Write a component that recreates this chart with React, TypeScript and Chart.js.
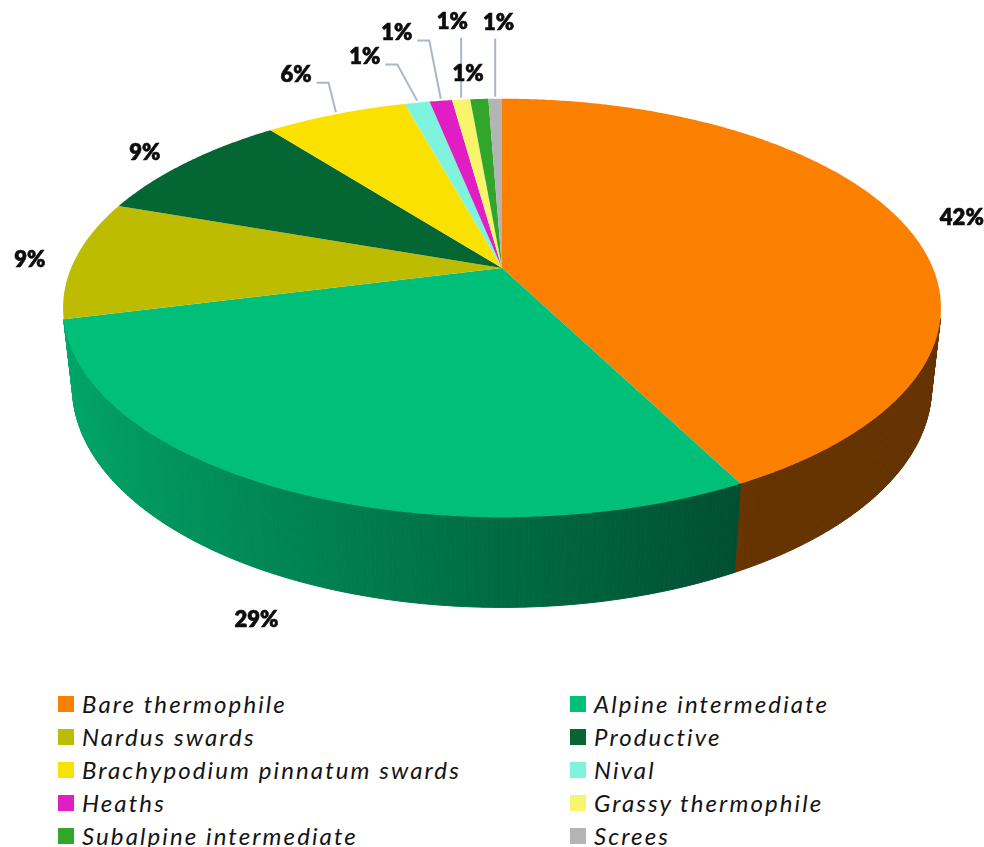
import React, { useEffect, useRef } from "react";
import { Chart, registerables } from "chart.js";

Chart.register(...registerables);

// ---------- data ----------
const categories = [
  "Bare thermophile",
  "Alpine intermediate",
  "Nardus swards",
  "Productive",
  "Brachypodium pinnatum swards",
  "Nival",
  "Heaths",
  "Grassy thermophile",
  "Subalpine intermediate",
  "Screes",
];
const shares = [42.4, 28.7, 9.2, 9.1, 6.3, 1.1, 1.0, 0.8, 0.8, 0.6];
const colors = [
  "#FB8000",
  "#00BF78",
  "#BDBC00",
  "#036633",
  "#FAE100",
  "#7EF4DF",
  "#E01EC4",
  "#F8F46B",
  "#31A62A",
  "#B4B4B4",
];

// ---------- label layout (style, not data) ----------
const labelRadius = [1.15, 1.14, 1.105, 1.13, 1.31, 1.37, 1.535, 1.6, 1.18, 1.586];
const labelShiftDeg = [0.6, 0, -0.4, -0.9, 0.3, -3.4, -2.1, 1.1, -1.1, 0.7];
const labelOnBase = [false, true, false, false, false, false, false, false, false, false];
const labelLeader = [false, false, false, false, true, true, true, true, false, true];

// ---------- 3D view ----------
const VIEW = {
  cx: 502,
  cy: 268,
  F: 1995,
  L: 4.63,
  tilt: (27.9 * Math.PI) / 180,
  h: 0.2107,
};

function project(X: number, Y: number, Z: number) {
  const c = Math.cos(VIEW.tilt);
  const s = Math.sin(VIEW.tilt);
  const depth = VIEW.L + Y * c - Z * s;
  return {
    x: VIEW.cx + (VIEW.F * X) / depth,
    y: VIEW.cy - (VIEW.F * (Y * s + Z * c)) / depth,
  };
}

function hexToRgb(hex: string) {
  const v = parseInt(hex.slice(1), 16);
  return [(v >> 16) & 255, (v >> 8) & 255, v & 255];
}

function projectedContext(ctx: CanvasRenderingContext2D, x0: number, y0: number, R: number) {
  const pt = (px: number, py: number) => project((px - x0) / R, -(py - y0) / R, 0);
  const overrides: any = {
    moveTo(x: number, y: number) {
      const p = pt(x, y);
      ctx.moveTo(p.x, p.y);
    },
    lineTo(x: number, y: number) {
      const p = pt(x, y);
      ctx.lineTo(p.x, p.y);
    },
    arc(x: number, y: number, r: number, a0: number, a1: number, ccw?: boolean) {
      if (!isFinite(a0) || !isFinite(a1) || !(r > 0)) {
        if (isFinite(x) && isFinite(y)) {
          const p = pt(x, y);
          ctx.lineTo(p.x, p.y);
        }
        return;
      }
      let span = a1 - a0;
      if (!ccw && span < 0) span += Math.PI * 2;
      if (ccw && span > 0) span -= Math.PI * 2;
      const n = Math.max(2, Math.ceil(Math.abs(span) / (Math.PI / 360)));
      for (let i = 0; i <= n; i++) {
        const a = a0 + (span * i) / n;
        const p = pt(x + r * Math.cos(a), y + r * Math.sin(a));
        ctx.lineTo(p.x, p.y);
      }
    },
    translate() {},
  };
  return new Proxy(ctx, {
    get(t: any, p) {
      if (typeof p === "string" && p in overrides) return overrides[p];
      const v = t[p];
      return typeof v === "function" ? v.bind(t) : v;
    },
    set(t: any, p, v) {
      t[p] = v;
      return true;
    },
  });
}

const pie3d = {
  id: "pie3d",
  beforeDatasetsDraw(chart: any) {
    const meta = chart.getDatasetMeta(0);
    const ctx: CanvasRenderingContext2D = chart.ctx;
    const thr = -1 / (VIEW.L * Math.cos(VIEW.tilt));
    ctx.save();
    ctx.lineWidth = 1;
    meta.data.forEach((el: any, i: number) => {
      const s0 = el.startAngle;
      const s1 = el.endAngle;
      const n = Math.max(1, Math.ceil((s1 - s0) / (Math.PI / 360)));
      const rgb = hexToRgb(colors[i]);
      for (let j = 0; j < n; j++) {
        const a0 = s0 + ((s1 - s0) * j) / n;
        const a1 = s0 + ((s1 - s0) * (j + 1)) / n;
        const Y0 = -Math.sin(a0);
        const Y1 = -Math.sin(a1);
        if (Math.min(Y0, Y1) > thr) continue;
        const X0 = Math.cos(a0);
        const X1 = Math.cos(a1);
        const Xm = Math.cos((a0 + a1) / 2);
        const sh = Math.max(0.4, Math.min(0.9, 0.56 - 0.32 * Xm));
        const col = `rgb(${Math.round(rgb[0] * sh)},${Math.round(rgb[1] * sh)},${Math.round(rgb[2] * sh)})`;
        const t0 = project(X0, Y0, 0);
        const t1 = project(X1, Y1, 0);
        const b1 = project(X1, Y1, -VIEW.h);
        const b0 = project(X0, Y0, -VIEW.h);
        ctx.beginPath();
        ctx.moveTo(t0.x, t0.y);
        ctx.lineTo(t1.x, t1.y);
        ctx.lineTo(b1.x, b1.y);
        ctx.lineTo(b0.x, b0.y);
        ctx.closePath();
        ctx.fillStyle = col;
        ctx.strokeStyle = col;
        ctx.fill();
        ctx.stroke();
      }
    });
    ctx.restore();
  },
  beforeDatasetDraw(chart: any, args: any) {
    const meta = args.meta;
    const ref = meta.data[0];
    const pctx = projectedContext(chart.ctx, ref.x, ref.y, ref.outerRadius);
    meta.data.forEach((el: any) => el.draw(pctx));
    return false;
  },
  afterDatasetsDraw(chart: any) {
    const meta = chart.getDatasetMeta(0);
    const ctx: CanvasRenderingContext2D = chart.ctx;
    const data: number[] = chart.data.datasets[0].data;
    const total = data.reduce((a, b) => a + b, 0);
    ctx.save();
    ctx.font = "800 22px Lato";
    ctx.textAlign = "center";
    ctx.textBaseline = "middle";
    meta.data.forEach((el: any, i: number) => {
      const mid = (el.startAngle + el.endAngle) / 2;
      const a = mid + (labelShiftDeg[i] * Math.PI) / 180;
      const r = labelRadius[i];
      const c = project(r * Math.cos(a), -r * Math.sin(a), labelOnBase[i] ? -VIEW.h : 0);
      const text = Math.round((data[i] / total) * 100) + "%";
      const w = ctx.measureText(text).width;
      if (labelLeader[i]) {
        const e = project(Math.cos(mid), -Math.sin(mid), 0);
        const right = c.x + w / 2;
        ctx.strokeStyle = "#A9B7C9";
        ctx.lineWidth = 2;
        ctx.beginPath();
        if (e.x > right + 8) {
          ctx.moveTo(e.x, e.y - 2);
          ctx.lineTo(right + 17, c.y + 8);
          ctx.lineTo(right + 5, c.y + 8);
        } else {
          ctx.moveTo(e.x, e.y - 2);
          ctx.lineTo(e.x, c.y + 16);
        }
        ctx.stroke();
      }
      ctx.fillStyle = "#0d0d0d";
      ctx.strokeStyle = "#0d0d0d";
      ctx.lineWidth = 0.6;
      ctx.fillText(text, c.x, c.y);
      ctx.strokeText(text, c.x, c.y);
    });
    ctx.restore();
  },
};

export default function App() {
  const ref = useRef<HTMLCanvasElement | null>(null);
  useEffect(() => {
    if (!ref.current) return;
    const chart = new Chart(ref.current, {
      type: "pie",
      data: {
        labels: categories,
        datasets: [
          {
            data: shares,
            backgroundColor: colors,
            borderWidth: 0,
          },
        ],
      },
      options: {
        responsive: false,
        maintainAspectRatio: false,
        animation: false,
        events: [],
        layout: { padding: 0 },
        plugins: {
          legend: { display: false },
          tooltip: { enabled: false },
        },
      },
      plugins: [pie3d],
    });
    return () => chart.destroy();
  }, []);

  return (
    <div style={{ position: "absolute", left: 0, top: 0, width: 984, height: 847, background: "#fff" }}>
      <canvas ref={ref} width={984} height={660} style={{ position: "absolute", left: 0, top: 0 }} />
      <div
        style={{
          position: "absolute",
          left: 58,
          top: 687,
          display: "grid",
          gridTemplateColumns: "512px 400px",
          gridAutoRows: "33px",
          fontFamily: "Lato, sans-serif",
          fontStyle: "italic",
          fontSize: 24,
          letterSpacing: "2.1px",
          color: "#141414",
        }}
      >
        {categories.map((c, i) => (
          <div key={c} style={{ display: "flex", alignItems: "center", whiteSpace: "nowrap" }}>
            <span style={{ width: 16, height: 16, background: colors[i], display: "inline-block", marginRight: 8, flex: "none" }} />
            <span>{c}</span>
          </div>
        ))}
      </div>
    </div>
  );
}
